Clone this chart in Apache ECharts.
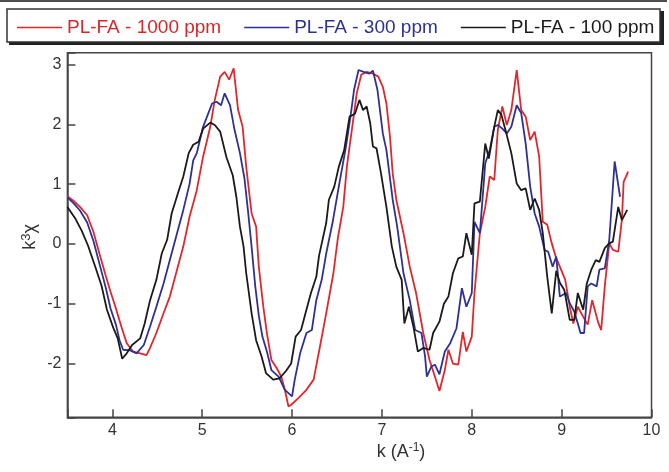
<!DOCTYPE html>
<html>
<head>
<meta charset="utf-8">
<script src="https://cdn.jsdelivr.net/npm/echarts@6/dist/echarts.min.js"></script>
<style>html,body{margin:0;padding:0;background:#fff}#c{width:669px;height:472px}</style>
</head>
<body>
<div id="c"></div>
<script>
const seriesNames = ['PL-FA - 1000 ppm', 'PL-FA - 300 ppm', 'PL-FA - 100 ppm'];
const xTicks = [4, 5, 6, 7, 8, 9, 10];
const yTicks = [-2, -1, 0, 1, 2, 3];

const kRed = [3.50,3.57,3.64,3.72,3.79,3.86,3.93,3.98,4.04,4.10,4.16,4.23,4.31,4.38,4.42,4.49,4.57,4.64,4.72,4.79,4.86,4.94,5.01,5.09,5.14,5.20,5.25,5.30,5.35,5.40,5.45,5.49,5.55,5.60,5.63,5.68,5.72,5.77,5.83,5.88,5.92,5.96,5.99,6.07,6.16,6.24,6.31,6.38,6.46,6.51,6.57,6.61,6.64,6.68,6.72,6.77,6.83,6.90,6.96,7.01,7.05,7.09,7.12,7.16,7.24,7.31,7.38,7.46,7.53,7.59,7.64,7.70,7.74,7.79,7.85,7.90,7.94,8.00,8.03,8.09,8.15,8.20,8.25,8.29,8.34,8.39,8.44,8.50,8.55,8.60,8.65,8.70,8.75,8.79,8.84,8.89,8.94,8.98,9.04,9.09,9.13,9.18,9.24,9.29,9.34,9.41,9.44,9.48,9.53,9.57,9.63,9.67,9.69,9.74];
const vRed = [0.80,0.72,0.62,0.48,0.20,-0.18,-0.55,-0.80,-1.08,-1.38,-1.66,-1.80,-1.83,-1.86,-1.74,-1.49,-1.16,-0.88,-0.43,-0.04,0.46,0.90,1.46,1.96,2.41,2.80,2.88,2.75,2.94,2.24,1.96,1.29,0.51,0.29,-0.38,-1.05,-1.49,-1.94,-2.08,-2.22,-2.44,-2.72,-2.69,-2.58,-2.44,-2.27,-1.72,-1.16,-0.49,0.10,0.62,1.29,1.63,2.07,2.52,2.83,2.88,2.85,2.80,2.63,2.35,1.79,1.18,0.74,0.18,-0.38,-0.82,-1.49,-1.94,-2.22,-2.46,-2.11,-1.77,-2.00,-2.02,-1.47,-1.80,-1.55,-0.82,0.18,0.62,1.13,1.07,1.91,2.30,1.99,2.24,2.91,2.24,2.13,1.74,1.88,1.46,0.37,0.32,0.01,-0.24,-0.38,-0.60,-1.05,-1.33,-1.05,-1.22,-1.35,-0.94,-1.33,-1.44,-0.71,0.01,-0.10,-0.13,0.40,1.04,1.21];

const kBlue = [3.50,3.57,3.64,3.72,3.79,3.86,3.93,3.98,4.04,4.08,4.12,4.20,4.27,4.35,4.42,4.49,4.57,4.64,4.72,4.79,4.86,4.90,4.94,5.01,5.11,5.16,5.21,5.25,5.31,5.36,5.42,5.47,5.51,5.55,5.59,5.63,5.67,5.72,5.77,5.85,5.92,6.00,6.03,6.09,6.16,6.22,6.27,6.33,6.38,6.45,6.52,6.60,6.65,6.69,6.74,6.81,6.86,6.90,6.95,7.01,7.05,7.12,7.17,7.24,7.31,7.37,7.44,7.48,7.50,7.55,7.59,7.64,7.70,7.76,7.83,7.89,7.94,8.00,8.03,8.09,8.15,8.20,8.25,8.29,8.34,8.39,8.44,8.50,8.55,8.60,8.65,8.70,8.75,8.81,8.85,8.90,8.94,8.98,9.05,9.09,9.14,9.18,9.21,9.25,9.29,9.33,9.39,9.42,9.48,9.53,9.59,9.65];
const vBlue = [0.78,0.68,0.56,0.36,0.05,-0.35,-0.75,-1.08,-1.35,-1.61,-1.77,-1.78,-1.83,-1.69,-1.38,-1.05,-0.66,-0.27,0.18,0.57,1.01,1.40,1.52,1.96,2.35,2.38,2.32,2.52,2.32,1.91,1.52,1.10,0.55,-0.05,-0.70,-1.20,-1.55,-1.80,-2.11,-2.22,-2.44,-2.55,-2.27,-1.83,-1.49,-1.44,-0.94,-0.60,-0.16,0.35,0.96,1.63,2.13,2.58,2.91,2.87,2.85,2.90,2.58,1.85,1.57,0.74,0.29,-0.49,-0.94,-1.44,-1.49,-1.88,-2.22,-2.05,-2.02,-2.18,-1.80,-1.66,-1.41,-0.74,-1.05,-0.82,0.37,0.18,1.35,1.57,1.96,1.99,1.93,1.85,1.96,2.32,2.19,1.68,0.96,0.51,0.29,-0.10,-0.13,-0.38,-0.21,-0.88,-0.82,-0.99,-1.13,-1.33,-1.49,-1.49,-0.71,-0.66,-0.71,-0.43,-0.41,0.07,1.38,0.79];

const kBlack = [3.50,3.59,3.66,3.73,3.81,3.88,3.94,4.01,4.06,4.11,4.16,4.22,4.31,4.36,4.42,4.49,4.55,4.61,4.66,4.73,4.79,4.85,4.90,4.96,5.01,5.09,5.14,5.20,5.27,5.34,5.38,5.42,5.46,5.49,5.55,5.60,5.66,5.71,5.79,5.86,5.93,5.99,6.04,6.10,6.16,6.21,6.27,6.30,6.38,6.41,6.47,6.52,6.58,6.64,6.70,6.75,6.79,6.83,6.87,6.90,6.94,6.99,7.05,7.11,7.16,7.22,7.25,7.30,7.35,7.40,7.46,7.53,7.57,7.64,7.69,7.74,7.79,7.85,7.90,7.94,8.00,8.03,8.09,8.15,8.19,8.25,8.29,8.33,8.39,8.44,8.50,8.55,8.60,8.65,8.70,8.75,8.79,8.84,8.89,8.94,8.98,9.03,9.09,9.14,9.18,9.24,9.28,9.33,9.38,9.42,9.48,9.53,9.57,9.63,9.67,9.73];
const vBlack = [0.62,0.42,0.22,-0.03,-0.38,-0.70,-1.10,-1.40,-1.58,-1.92,-1.83,-1.69,-1.58,-1.33,-0.94,-0.60,-0.16,0.07,0.51,0.85,1.13,1.52,1.66,1.71,1.93,2.03,1.99,1.88,1.45,1.15,0.79,0.29,-0.04,-0.49,-1.16,-1.61,-1.88,-2.16,-2.27,-2.25,-2.13,-2.00,-1.55,-1.44,-1.10,-0.82,-0.55,-0.20,0.35,0.74,0.96,1.29,1.57,2.13,2.18,2.41,2.24,2.30,2.02,1.63,1.60,1.18,0.62,-0.04,-0.38,-0.60,-1.33,-1.05,-1.38,-1.80,-1.74,-1.77,-1.49,-1.30,-1.00,-0.88,-0.49,-0.24,-0.21,0.18,-0.18,0.68,0.71,1.68,1.43,1.96,2.24,2.16,1.82,1.52,1.01,0.90,0.93,0.57,0.76,0.57,0.18,-0.55,-1.16,-0.45,-0.65,-0.77,-1.27,-1.27,-0.82,-1.10,-0.66,-0.43,-0.27,-0.30,-0.07,0.01,0.04,0.62,0.40,0.57];

const colors = ['#e3262b', '#2e3194', '#1a1a1a'];
const legendTextColors = ['#d9262b', '#2e3194', '#1a1a1a'];
const FONT = '"Liberation Sans", Arial, sans-serif';

function pairs(k, v) { return k.map((x, i) => [x, v[i]]); }

const chart = echarts.init(document.getElementById('c'), null, { renderer: 'canvas' });
const option = {
  animation: false,
  backgroundColor: '#fff',
  textStyle: { fontFamily: FONT },
  grid: { left: 67.4, right: 17.5, top: 52.7, bottom: 54.7, show: true, borderColor: '#444', borderWidth: 1.5, containLabel: false },
  legend: {
    left: 17, top: 18, z: 10, padding: 0,
    icon: 'rect', itemWidth: 45, itemHeight: 1.6, itemGap: 23,
    data: seriesNames.map((n, i) => ({ name: n, textStyle: { color: legendTextColors[i] } })),
    textStyle: { fontSize: 19, fontFamily: FONT }
  },
  xAxis: {
    type: 'value', min: 3.5, max: 10,
    axisLine: { onZero: false, lineStyle: { color: '#444', width: 1.5 } },
    axisTick: { inside: true, length: 8, lineStyle: { color: '#444', width: 1.5 } },
    axisLabel: { fontSize: 16, color: '#333', margin: 5, fontFamily: FONT,
      formatter: v => (xTicks.indexOf(v) >= 0 ? String(v) : '') },
    splitLine: { show: false }
  },
  yAxis: {
    type: 'value', min: -2.9, max: 3.2,
    axisLine: { show: true, onZero: false, lineStyle: { color: '#444', width: 1.5 } },
    axisTick: { show: true, inside: true, length: 8, lineStyle: { color: '#444', width: 1.5 } },
    axisLabel: { fontSize: 16, color: '#333', margin: 6, fontFamily: FONT,
      formatter: v => (yTicks.indexOf(v) >= 0 ? String(v) : '') },
    splitLine: { show: false }
  },
  graphic: [
    { type: 'line', z: 1, shape: { x1: 0, y1: 1, x2: 667, y2: 1 }, style: { stroke: '#111', lineWidth: 1.5 } },
    { type: 'rect', z: 1, shape: { x: 9, y: 11, width: 655, height: 34 }, style: { fill: '#222' } },
    { type: 'rect', z: 2, shape: { x: 7, y: 9, width: 653, height: 33 }, style: { fill: '#fff', stroke: '#333', lineWidth: 1.5 } },
    { type: 'text', z: 5, x: 401, y: 452,
      style: { text: '{a|k (A}{s|-1}{a|)}', align: 'center', verticalAlign: 'middle',
        rich: { a: { fontSize: 18, fill: '#333', fontFamily: FONT }, s: { fontSize: 12, fill: '#333', fontFamily: FONT, verticalAlign: 'top', padding: [0, 0, 8, 0] } } } },
    { type: 'text', z: 5, x: 30, y: 237, rotation: Math.PI / 2,
      style: { text: '{a|k}{s|3}{a|χ}', align: 'center', verticalAlign: 'middle',
        rich: { a: { fontSize: 18, fill: '#333', fontFamily: FONT }, s: { fontSize: 13, fill: '#333', fontFamily: FONT, padding: [0, 0, 8, 0] } } } }
  ],
  series: [
    { name: seriesNames[0], type: 'line', data: pairs(kRed, vRed), symbol: 'none', lineStyle: { color: colors[0], width: 1.8 }, itemStyle: { color: colors[0] }, z: 3 },
    { name: seriesNames[1], type: 'line', data: pairs(kBlue, vBlue), symbol: 'none', lineStyle: { color: colors[1], width: 1.8 }, itemStyle: { color: colors[1] }, z: 4 },
    { name: seriesNames[2], type: 'line', data: pairs(kBlack, vBlack), symbol: 'none', lineStyle: { color: colors[2], width: 1.8 }, itemStyle: { color: colors[2] }, z: 5 }
  ]
};
chart.setOption(option);
</script>
</body>
</html>
